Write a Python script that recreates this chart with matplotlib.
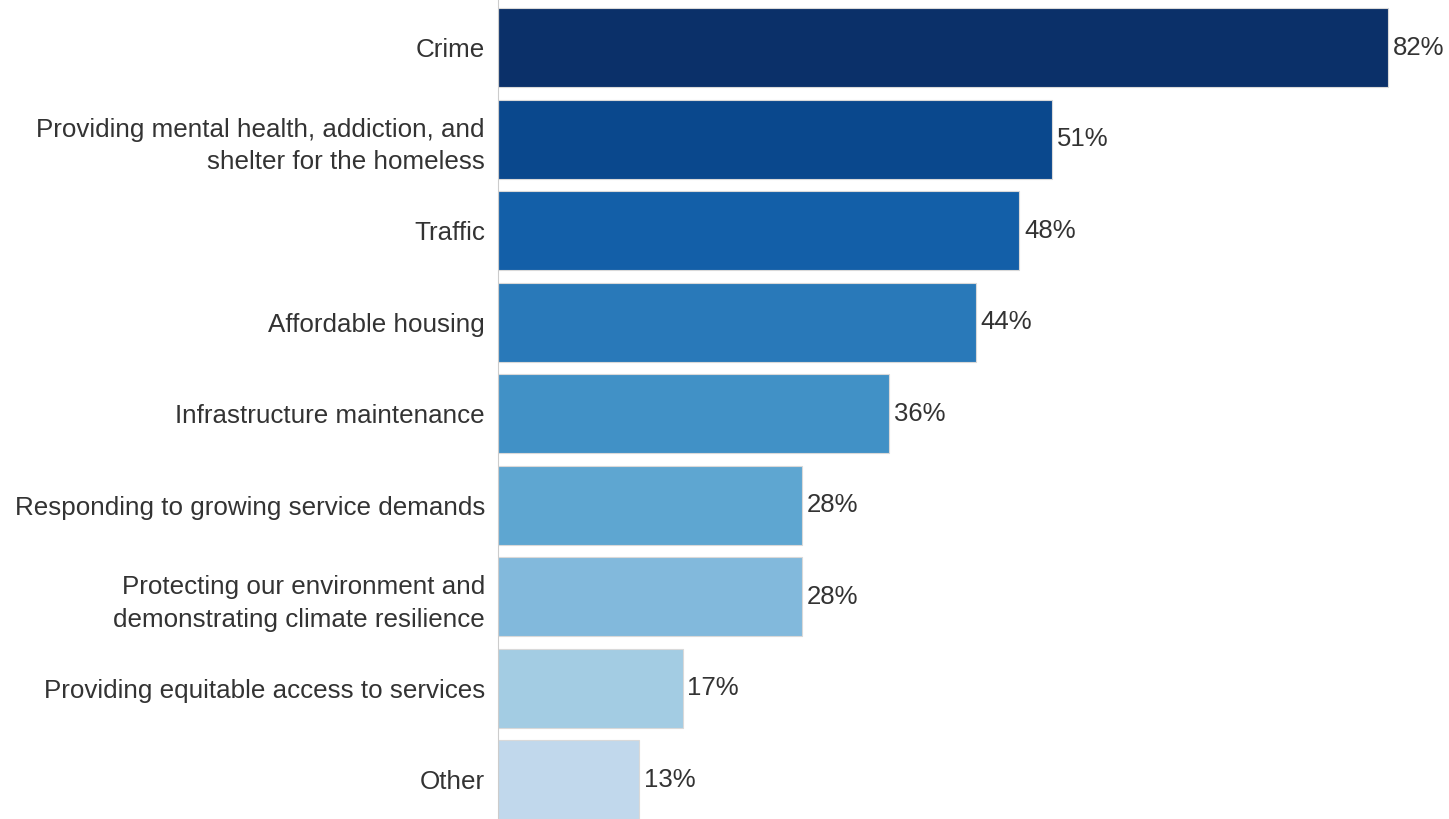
import matplotlib.pyplot as plt

plt.rcParams['font.family'] = ['Liberation Sans', 'DejaVu Sans']

# survey answers, top to bottom
categories = [
    "Crime",
    "Providing mental health, addiction, and\nshelter for the homeless",
    "Traffic",
    "Affordable housing",
    "Infrastructure maintenance",
    "Responding to growing service demands",
    "Protecting our environment and\ndemonstrating climate resilience",
    "Providing equitable access to services",
    "Other",
]
values = [82, 51, 48, 44, 36, 28, 28, 17, 13]
colors = ["#0b3069", "#0a488d", "#135fa8", "#2979b9", "#4191c6",
          "#5ea6d1", "#82b9dc", "#a3cce3", "#c1d8ec"]

fig = plt.figure(figsize=(14.49, 8.19), dpi=100)
ax = fig.add_axes([0.3437, 0, 0.6563, 1])

pos = list(range(len(values)))
ax.barh(pos, values, height=0.865, color=colors, edgecolor="#d9d9d9", linewidth=0.8)

for p, v in zip(pos, values):
    ax.text(v + 0.45, p, f"{v}%", va="center", ha="left", fontsize=18.5, color="#333333")

ax.set_yticks(pos)
ax.set_yticklabels(categories, fontsize=18.7, color="#333333", linespacing=1.45)
ax.tick_params(axis="y", length=0, pad=9.4)
ax.set_xticks([])
ax.set_xlim(0, 87.6)
ax.set_ylim(8.43, -0.52)
for s in ["top", "right", "bottom"]:
    ax.spines[s].set_visible(False)
ax.spines["left"].set_color("#cccccc")
ax.spines["left"].set_linewidth(0.8)

fig.savefig("out.png", dpi=100)
